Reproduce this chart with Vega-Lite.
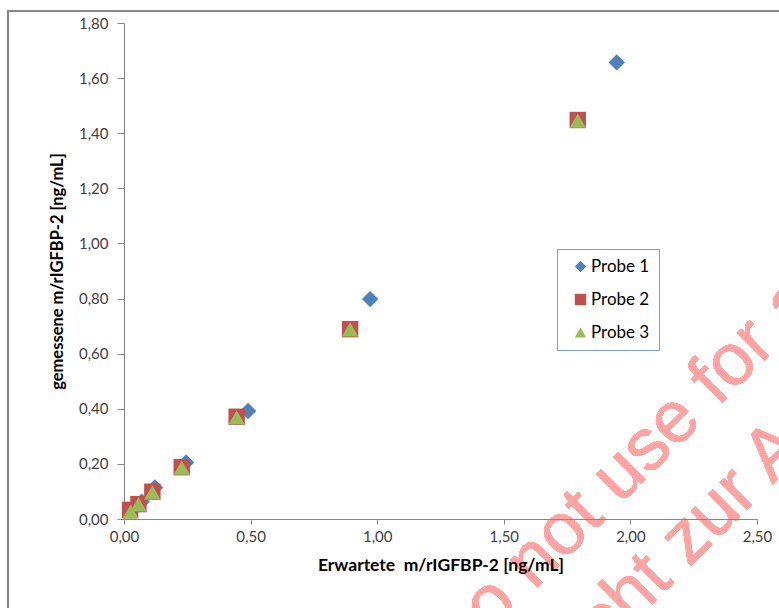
{
  "$schema": "https://vega.github.io/schema/vega-lite/v6.json",
  "autosize": "none",
  "width": 633,
  "height": 496,
  "padding": {"left": 124, "top": 23, "right": 22, "bottom": 89},
  "background": "white",
  "config": {
    "view": {"stroke": null},
    "font": "Lato",
    "axis": {
      "grid": false,
      "labelFlush": false,
      "labelOverlap": false,
      "domainColor": "#868686",
      "tickColor": "#868686",
      "labelFont": "Lato",
      "labelFontSize": 15,
      "labelColor": "#404040",
      "titleFont": "Lato",
      "titleFontSize": 16.5,
      "titleFontWeight": "bold",
      "titleColor": "#000000"
    },
    "legend": {
      "orient": "none",
      "legendX": 433,
      "legendY": 226,
      "strokeColor": "#7F9DC9",
      "fillColor": "white",
      "padding": 9,
      "rowPadding": 15,
      "symbolOffset": 6,
      "labelFont": "Lato",
      "labelFontSize": 17,
      "labelColor": "#000000",
      "labelOffset": 2,
      "symbolSize": 130,
      "symbolStrokeWidth": 0
    }
  },
  "data": {
    "values": [
      {"series": "Probe 1", "x": 0.03, "y": 0.03},
      {"series": "Probe 1", "x": 0.07, "y": 0.063},
      {"series": "Probe 1", "x": 0.122, "y": 0.114},
      {"series": "Probe 1", "x": 0.245, "y": 0.205},
      {"series": "Probe 1", "x": 0.49, "y": 0.392},
      {"series": "Probe 1", "x": 0.972, "y": 0.798},
      {"series": "Probe 1", "x": 1.946, "y": 1.657},
      {"series": "Probe 2", "x": 0.024, "y": 0.033},
      {"series": "Probe 2", "x": 0.057, "y": 0.054},
      {"series": "Probe 2", "x": 0.112, "y": 0.099},
      {"series": "Probe 2", "x": 0.228, "y": 0.188},
      {"series": "Probe 2", "x": 0.445, "y": 0.371},
      {"series": "Probe 2", "x": 0.893, "y": 0.689},
      {"series": "Probe 2", "x": 1.792, "y": 1.448},
      {"series": "Probe 3", "x": 0.026, "y": 0.027},
      {"series": "Probe 3", "x": 0.057, "y": 0.053},
      {"series": "Probe 3", "x": 0.112, "y": 0.097},
      {"series": "Probe 3", "x": 0.228, "y": 0.186},
      {"series": "Probe 3", "x": 0.445, "y": 0.369},
      {"series": "Probe 3", "x": 0.893, "y": 0.688},
      {"series": "Probe 3", "x": 1.792, "y": 1.446}
    ]
  },
  "layer": [
    {
      "mark": {"type": "rect", "filled": false, "stroke": "#878787", "strokeWidth": 1.2},
      "encoding": {
        "x": {"datum": -0.458, "type": "quantitative", "scale": {"domain": [0, 2.5], "nice": false, "zero": false}},
        "x2": {"datum": 3.2},
        "y": {"datum": 1.843, "type": "quantitative", "scale": {"domain": [0, 1.8], "nice": false, "zero": false}},
        "y2": {"datum": -0.5}
      }
    },
    {
      "mark": {"type": "text", "text": "Do not use for any diagnostic purposes", "font": "Liberation Sans", "fontSize": 73, "angle": -45, "align": "left", "baseline": "alphabetic", "color": "#FFA3A3"},
      "encoding": {
        "x": {"datum": 1.303, "type": "quantitative"},
        "y": {"datum": -0.552, "type": "quantitative"}
      }
    },
    {
      "mark": {"type": "text", "text": "nicht zur Anwendung in der Diagnostik", "font": "Liberation Sans", "fontSize": 73, "angle": -45, "align": "left", "baseline": "alphabetic", "color": "#FFA3A3"},
      "encoding": {
        "x": {"datum": 1.744, "type": "quantitative"},
        "y": {"datum": -0.624, "type": "quantitative"}
      }
    },
    {
      "mark": {"type": "point", "filled": true, "opacity": 1, "size": 270},
      "encoding": {
        "x": {
          "field": "x", "type": "quantitative",
          "scale": {"domain": [0, 2.5], "nice": false, "zero": false},
          "axis": {
            "values": [0, 0.5, 1, 1.5, 2, 2.5],
            "labelExpr": "replace(format(datum.value, '.2f'), '.', ',')",
            "tickSize": 5,
            "labelPadding": 5,
            "titlePadding": 12,
            "titleFontSize": 17.5,
            "zindex": 1,
            "title": "Erwartete\u00a0 m/rIGFBP-2 [ng/mL]"
          }
        },
        "y": {
          "field": "y", "type": "quantitative",
          "scale": {"domain": [0, 1.8], "nice": false, "zero": false},
          "axis": {
            "values": [0, 0.2, 0.4, 0.6, 0.8, 1, 1.2, 1.4, 1.6, 1.8],
            "labelExpr": "replace(format(datum.value, '.2f'), '.', ',')",
            "tickSize": 7,
            "labelPadding": 9,
            "titlePadding": 13,
            "title": "gemessene m/rIGFBP-2 [ng/mL]"
          }
        },
        "color": {
          "field": "series", "type": "nominal",
          "scale": {"domain": ["Probe 1", "Probe 2", "Probe 3"], "range": ["#4F81BD", "#C0504D", "#9BBB59"]},
          "legend": {"title": null}
        },
        "shape": {
          "field": "series", "type": "nominal",
          "scale": {"domain": ["Probe 1", "Probe 2", "Probe 3"], "range": ["diamond", "square", "triangle-up"]},
          "legend": {"title": null}
        }
      }
    }
  ]
}
